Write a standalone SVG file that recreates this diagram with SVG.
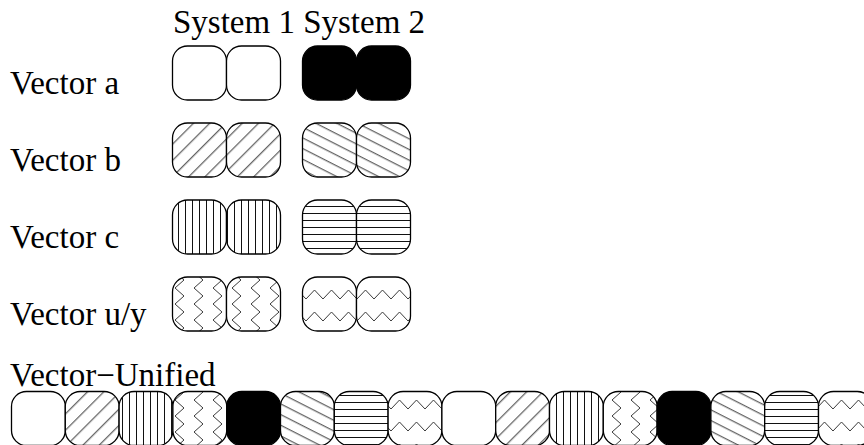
<svg xmlns="http://www.w3.org/2000/svg" width="864" height="445" viewBox="0 0 864 445">
<defs>
<style>
text{font-family:"Liberation Serif","Times New Roman",serif;font-size:33px;fill:#000}
.bx{stroke:#000;stroke-width:1.3}
.hl{stroke:#3a3a3a;stroke-width:1;fill:none}
.hd{stroke:#111;stroke-width:1;fill:none}
</style>
<pattern id="pDiag" patternUnits="userSpaceOnUse" width="11.5" height="10" patternTransform="rotate(45)"><rect width="11.5" height="10" fill="#fff"/><line class="hl" x1="5.5" y1="-1" x2="5.5" y2="11"/></pattern>
<pattern id="pBack" patternUnits="userSpaceOnUse" width="10" height="9.5" patternTransform="rotate(27)"><rect width="10" height="9.5" fill="#fff"/><line class="hl" x1="-1" y1="4.5" x2="11" y2="4.5"/></pattern>
<pattern id="pVert" patternUnits="userSpaceOnUse" width="7" height="10"><rect width="7" height="10" fill="#fff"/><line class="hd" x1="3.5" y1="-1" x2="3.5" y2="11"/></pattern>
<pattern id="pHor" patternUnits="userSpaceOnUse" width="10" height="7"><rect width="10" height="7" fill="#fff"/><line class="hd" x1="-1" y1="3.5" x2="11" y2="3.5"/></pattern>
<pattern id="pZv" patternUnits="userSpaceOnUse" width="19" height="16"><rect width="19" height="16" fill="#fff"/><polyline class="hl" points="4,0 13,8 4,16"/></pattern>
<pattern id="pZh" patternUnits="userSpaceOnUse" width="17" height="22"><rect width="17" height="22" fill="#fff"/><polyline class="hl" points="0,13 8.5,4 17,13"/></pattern>
</defs>
<text x="173" y="33">System 1 System 2</text>
<text x="10" y="94">Vector a</text>
<text x="10" y="171">Vector b</text>
<text x="10" y="248">Vector c</text>
<text x="10" y="325">Vector u/y</text>
<text x="10" y="386">Vector−Unified</text>
<g id="vec-a-s1"><rect class="bx" x="172.5" y="46" width="54" height="54" rx="15" fill="#fff"/><rect class="bx" x="226.5" y="46" width="54" height="54" rx="15" fill="#fff"/></g>
<g id="vec-a-s2"><rect class="bx" x="302.5" y="46" width="54" height="54" rx="15" fill="#000"/><rect class="bx" x="356.5" y="46" width="54" height="54" rx="15" fill="#000"/></g>
<g id="vec-b-s1"><rect class="bx" x="172.5" y="123" width="54" height="54" rx="15" fill="url(#pDiag)"/><rect class="bx" x="226.5" y="123" width="54" height="54" rx="15" fill="url(#pDiag)"/></g>
<g id="vec-b-s2"><rect class="bx" x="302.5" y="123" width="54" height="54" rx="15" fill="url(#pBack)"/><rect class="bx" x="356.5" y="123" width="54" height="54" rx="15" fill="url(#pBack)"/></g>
<g id="vec-c-s1"><rect class="bx" x="172.5" y="200" width="54" height="54" rx="15" fill="url(#pVert)"/><rect class="bx" x="226.5" y="200" width="54" height="54" rx="15" fill="url(#pVert)"/></g>
<g id="vec-c-s2"><rect class="bx" x="302.5" y="200" width="54" height="54" rx="15" fill="url(#pHor)"/><rect class="bx" x="356.5" y="200" width="54" height="54" rx="15" fill="url(#pHor)"/></g>
<g id="vec-uy-s1"><rect class="bx" x="172.5" y="277" width="54" height="54" rx="15" fill="url(#pZv)"/><rect class="bx" x="226.5" y="277" width="54" height="54" rx="15" fill="url(#pZv)"/></g>
<g id="vec-uy-s2"><rect class="bx" x="302.5" y="277" width="54" height="54" rx="15" fill="url(#pZh)"/><rect class="bx" x="356.5" y="277" width="54" height="54" rx="15" fill="url(#pZh)"/></g>
<g id="vec-unified">
<rect class="bx" x="11.5" y="391.5" width="53.8" height="54" rx="15" fill="#fff"/>
<rect class="bx" x="65.3" y="391.5" width="53.8" height="54" rx="15" fill="url(#pDiag)"/>
<rect class="bx" x="119.1" y="391.5" width="53.8" height="54" rx="15" fill="url(#pVert)"/>
<rect class="bx" x="172.9" y="391.5" width="53.8" height="54" rx="15" fill="url(#pZv)"/>
<rect class="bx" x="226.7" y="391.5" width="53.8" height="54" rx="15" fill="#000"/>
<rect class="bx" x="280.5" y="391.5" width="53.8" height="54" rx="15" fill="url(#pBack)"/>
<rect class="bx" x="334.3" y="391.5" width="53.8" height="54" rx="15" fill="url(#pHor)"/>
<rect class="bx" x="388.1" y="391.5" width="53.8" height="54" rx="15" fill="url(#pZh)"/>
<rect class="bx" x="441.9" y="391.5" width="53.8" height="54" rx="15" fill="#fff"/>
<rect class="bx" x="495.7" y="391.5" width="53.8" height="54" rx="15" fill="url(#pDiag)"/>
<rect class="bx" x="549.5" y="391.5" width="53.8" height="54" rx="15" fill="url(#pVert)"/>
<rect class="bx" x="603.3" y="391.5" width="53.8" height="54" rx="15" fill="url(#pZv)"/>
<rect class="bx" x="657.1" y="391.5" width="53.8" height="54" rx="15" fill="#000"/>
<rect class="bx" x="710.9" y="391.5" width="53.8" height="54" rx="15" fill="url(#pBack)"/>
<rect class="bx" x="764.7" y="391.5" width="53.8" height="54" rx="15" fill="url(#pHor)"/>
<rect class="bx" x="818.5" y="391.5" width="53.8" height="54" rx="15" fill="url(#pZh)"/>
</g>
</svg>
